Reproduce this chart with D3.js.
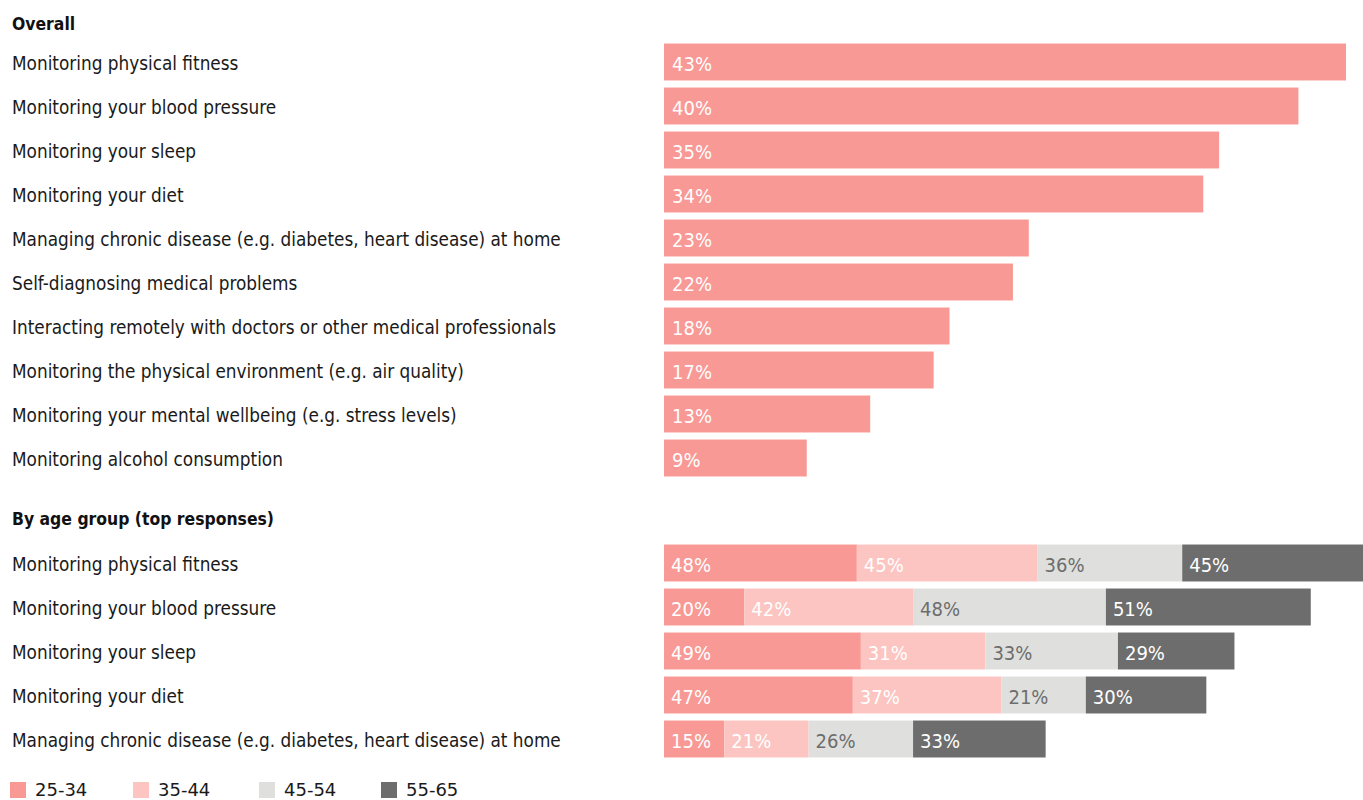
<!DOCTYPE html>
<html>
<head>
<meta charset="utf-8">
<script src="https://cdn.jsdelivr.net/npm/d3@7"></script>
<style>
  html, body { margin: 0; padding: 0; background: #fff; }
  svg { display: block; }
  .lbl { font-family: "DejaVu Sans Condensed", "DejaVu Sans", sans-serif; font-size: 18.8px; fill: #1a1a1a; }
  .head { font-family: "DejaVu Sans Condensed", "DejaVu Sans", sans-serif; font-size: 17.4px; font-weight: bold; fill: #111; }
  .val { font-family: "DejaVu Sans Condensed", "DejaVu Sans", sans-serif; font-size: 20px; }
  .leg { font-family: "DejaVu Sans", sans-serif; font-size: 18px; fill: #1a1a1a; }
</style>
</head>
<body>
<svg id="chart" width="1363" height="800"></svg>
<script>
// Overall responses
const overallCategories = [
  "Monitoring physical fitness",
  "Monitoring your blood pressure",
  "Monitoring your sleep",
  "Monitoring your diet",
  "Managing chronic disease (e.g. diabetes, heart disease) at home",
  "Self-diagnosing medical problems",
  "Interacting remotely with doctors or other medical professionals",
  "Monitoring the physical environment (e.g. air quality)",
  "Monitoring your mental wellbeing (e.g. stress levels)",
  "Monitoring alcohol consumption"
];
const overallValues = [43, 40, 35, 34, 23, 22, 18, 17, 13, 9];

// Top responses split by age group
const ageCategories = [
  "Monitoring physical fitness",
  "Monitoring your blood pressure",
  "Monitoring your sleep",
  "Monitoring your diet",
  "Managing chronic disease (e.g. diabetes, heart disease) at home"
];
const ageGroups = ["25-34", "35-44", "45-54", "55-65"];
const age2534 = [48, 20, 49, 47, 15];
const age3544 = [45, 42, 31, 37, 21];
const age4554 = [36, 48, 33, 21, 26];
const age5565 = [45, 51, 29, 30, 33];

const colors = ["#f89995", "#fcc5c1", "#dfe0dd", "#6d6d6d"];
const textColors = ["#ffffff", "#ffffff", "#6d6d6d", "#ffffff"];

const svg = d3.select("#chart");
const barLeft = 664;
const labelX = 12;

// ---- Overall section ----
svg.append("text").attr("class", "head").attr("x", labelX).attr("y", 24)
  .attr("dy", "0.35em").text("Overall");

const yTop = d3.scaleBand().domain(overallCategories).range([40, 480]).paddingInner(0.16).paddingOuter(0.08);
const xTop = d3.scaleLinear().domain([0, 43]).range([barLeft, 1346]);

const gTop = svg.append("g");
const rowsTop = gTop.selectAll("g.row").data(overallCategories.map((c, i) => ({ c, v: overallValues[i] })))
  .join("g").attr("class", "row");
rowsTop.append("text").attr("class", "lbl").attr("x", labelX)
  .attr("y", d => yTop(d.c) + yTop.bandwidth() / 2 + 1.5).attr("dy", "0.35em").text(d => d.c);
rowsTop.append("rect").attr("x", xTop(0)).attr("y", d => yTop(d.c))
  .attr("width", d => xTop(d.v) - xTop(0)).attr("height", yTop.bandwidth()).attr("fill", colors[0]);
rowsTop.append("text").attr("class", "val").attr("x", xTop(0) + 8)
  .attr("y", d => yTop(d.c) + yTop.bandwidth() / 2 + 1.5).attr("dy", "0.35em")
  .attr("fill", "#fff").text(d => d.v + "%");

// ---- By age group section ----
svg.append("text").attr("class", "head").attr("x", labelX).attr("y", 519)
  .attr("dy", "0.35em").text("By age group (top responses)");

const ageSeries = [age2534, age3544, age4554, age5565];
const ageRows = ageCategories.map((c, i) => {
  const row = { c };
  ageGroups.forEach((g, k) => { row[g] = ageSeries[k][i]; });
  return row;
});
const stack = d3.stack().keys(ageGroups)(ageRows);

const yBot = d3.scaleBand().domain(ageCategories).range([541, 761]).paddingInner(0.16).paddingOuter(0.08);
const xBot = d3.scaleLinear().domain([0, 174]).range([barLeft, 1363]);

svg.append("g").selectAll("text").data(ageCategories).join("text")
  .attr("class", "lbl").attr("x", labelX)
  .attr("y", d => yBot(d) + yBot.bandwidth() / 2 + 1.5).attr("dy", "0.35em").text(d => d);

const layers = svg.append("g").selectAll("g").data(stack).join("g");
layers.each(function(layer, k) {
  const g = d3.select(this);
  g.selectAll("rect").data(layer).join("rect")
    .attr("x", d => xBot(d[0])).attr("y", d => yBot(d.data.c))
    .attr("width", d => xBot(d[1]) - xBot(d[0])).attr("height", yBot.bandwidth())
    .attr("fill", colors[k]);
  g.selectAll("text").data(layer).join("text").attr("class", "val")
    .attr("x", d => xBot(d[0]) + 7)
    .attr("y", d => yBot(d.data.c) + yBot.bandwidth() / 2 + 1.5).attr("dy", "0.35em")
    .attr("fill", textColors[k]).text(d => (d[1] - d[0]) + "%");
});

// ---- Legend ----
const legX = [10, 133, 259, 381];
const leg = svg.append("g").selectAll("g").data(ageGroups).join("g")
  .attr("transform", (d, i) => `translate(${legX[i]},782)`);
leg.append("rect").attr("width", 16).attr("height", 16).attr("fill", (d, i) => colors[i]);
leg.append("text").attr("class", "leg").attr("x", 25).attr("y", 8).attr("dy", "0.35em").text(d => d);
</script>
</body>
</html>
